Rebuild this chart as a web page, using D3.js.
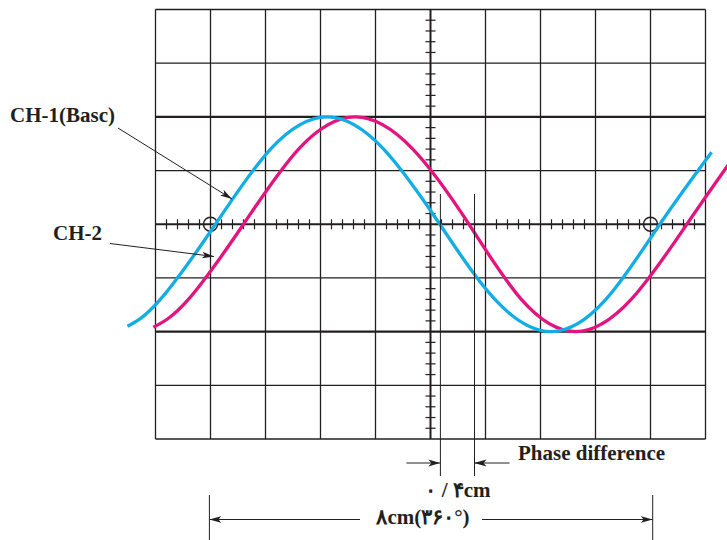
<!DOCTYPE html>
<html>
<head>
<meta charset="utf-8">
<script src="https://cdn.jsdelivr.net/npm/d3@7"></script>
<style>
    body { margin: 0; background: #fff; }
    svg { display: block; }
    text { font-family: "Liberation Serif", "DejaVu Serif", serif; font-weight: bold; fill: #231f20; }
</style>
</head>
<body>
<div id="chart"></div>
<script>
"use strict";

// grid units: x in divisions from left edge (0..10), y in divisions from centre (-4..4)
var gridCols = 10;
var gridRows = 8;
var thickRows = [-2, 0, 2];

// CH-1 (reference, cyan)
var ch1X = [-0.51, 0.08, 1.09, 2.10, 3.12, 4.14, 5.17, 6.18, 7.19, 8.18, 9.17, 10.11];
var ch1Y = [-1.90, -1.41, 0, 1.41, 2.00, 1.41, 0, -1.41, -2.00, -1.41, 0, 1.34];

// CH-2 (lagging, magenta)
var ch2X = [-0.04, 0.59, 1.60, 2.61, 3.63, 4.67, 5.70, 6.66, 7.63, 8.64, 9.66, 10.45];
var ch2Y = [-1.92, -1.41, 0, 1.41, 2.00, 1.41, 0, -1.41, -2.00, -1.41, 0, 1.16];

// trigger circles and measuring marks
var circleX = [1, 9];
var phaseMarkX = [5.18, 5.80];
var periodMarkX = [0.98, 9.04];

var labelCh1 = "CH-1(Basc)";
var labelCh2 = "CH-2";
var labelPhase = "Phase difference";
var labelPhaseValue = "\u06F0 / \u06F4cm";
var labelPeriod = "\u06F8cm(\u06F3\u06F6\u06F0\u00B0)";

var width = 727;
var height = 540;
var ink = "#231f20";
var fontSize = 21;

var x = d3.scaleLinear().domain([0, gridCols]).range([155.5, 705.5]);
var y = d3.scaleLinear().domain([-gridRows / 2, gridRows / 2]).range([439, 9.5]);

var svg = d3.select("#chart")
    .append("svg")
    .attr("width", width)
    .attr("height", height);

var defs = svg.append("defs");
defs.append("marker")
    .attr("id", "arrow")
    .attr("viewBox", "0 0 12 8")
    .attr("refX", 12)
    .attr("refY", 4)
    .attr("markerWidth", 12)
    .attr("markerHeight", 8)
    .attr("markerUnits", "userSpaceOnUse")
    .attr("orient", "auto")
    .append("path")
    .attr("d", "M0,0.6 L12,4 L0,7.4 L3,4 Z")
    .attr("fill", ink);

// grid
var grid = svg.append("g").attr("class", "grid");
grid.selectAll("line.v")
    .data(d3.range(0, gridCols + 1))
    .enter()
    .append("line")
    .attr("class", "v")
    .attr("x1", function(d) { return x(d); })
    .attr("x2", function(d) { return x(d); })
    .attr("y1", y(gridRows / 2))
    .attr("y2", y(-gridRows / 2))
    .attr("stroke", ink)
    .attr("stroke-width", function(d) { return d === gridCols / 2 ? 2 : 1.3; });

grid.selectAll("line.h")
    .data(d3.range(-gridRows / 2, gridRows / 2 + 1))
    .enter()
    .append("line")
    .attr("class", "h")
    .attr("x1", x(0))
    .attr("x2", x(gridCols))
    .attr("y1", function(d) { return y(d); })
    .attr("y2", function(d) { return y(d); })
    .attr("stroke", ink)
    .attr("stroke-width", function(d) { return thickRows.indexOf(d) >= 0 ? 2.2 : 1.3; });

// minor ticks on the centre axes (5 per division)
grid.selectAll("line.tx")
    .data(d3.range(0, gridCols * 5 + 1).filter(function(i) { return i % 5 !== 0; }))
    .enter()
    .append("line")
    .attr("class", "tx")
    .attr("x1", function(i) { return x(i / 5); })
    .attr("x2", function(i) { return x(i / 5); })
    .attr("y1", y(0) - 5)
    .attr("y2", y(0) + 5)
    .attr("stroke", ink)
    .attr("stroke-width", 1.2);

grid.selectAll("line.ty")
    .data(d3.range(-gridRows * 5 / 2, gridRows * 5 / 2 + 1).filter(function(i) { return i % 5 !== 0; }))
    .enter()
    .append("line")
    .attr("class", "ty")
    .attr("x1", x(gridCols / 2) - 5)
    .attr("x2", x(gridCols / 2) + 5)
    .attr("y1", function(i) { return y(i / 5); })
    .attr("y2", function(i) { return y(i / 5); })
    .attr("stroke", ink)
    .attr("stroke-width", 1.2);

// trigger circles
svg.append("g")
    .selectAll("circle")
    .data(circleX)
    .enter()
    .append("circle")
    .attr("cx", function(d) { return x(d); })
    .attr("cy", y(0))
    .attr("r", 7)
    .attr("fill", "none")
    .attr("stroke", ink)
    .attr("stroke-width", 1.5);

// traces
var line = d3.line()
    .x(function(d) { return x(d[0]); })
    .y(function(d) { return y(d[1]); })
    .curve(d3.curveNatural);

svg.append("path")
    .datum(d3.zip(ch2X, ch2Y))
    .attr("d", line)
    .attr("fill", "none")
    .attr("stroke", "#e4147f")
    .attr("stroke-width", 3.3);

svg.append("path")
    .datum(d3.zip(ch1X, ch1Y))
    .attr("d", line)
    .attr("fill", "none")
    .attr("stroke", "#13ade6")
    .attr("stroke-width", 3.3);

// labels with pointers
var notes = svg.append("g").attr("class", "notes");
notes.append("text")
    .attr("x", 10)
    .attr("y", 122)
    .attr("font-size", fontSize)
    .text(labelCh1);
notes.append("line")
    .attr("x1", 118).attr("y1", 128)
    .attr("x2", 232).attr("y2", 199)
    .attr("stroke", ink).attr("stroke-width", 1)
    .attr("marker-end", "url(#arrow)");

notes.append("text")
    .attr("x", 53)
    .attr("y", 240)
    .attr("font-size", fontSize)
    .text(labelCh2);
notes.append("line")
    .attr("x1", 110).attr("y1", 243.5)
    .attr("x2", 214).attr("y2", 256.5)
    .attr("stroke", ink).attr("stroke-width", 1)
    .attr("marker-end", "url(#arrow)");

// phase difference marks
notes.selectAll("line.phase")
    .data(phaseMarkX)
    .enter()
    .append("line")
    .attr("class", "phase")
    .attr("x1", function(d) { return x(d); })
    .attr("x2", function(d) { return x(d); })
    .attr("y1", 194)
    .attr("y2", 476)
    .attr("stroke", ink)
    .attr("stroke-width", 1);

notes.append("line")
    .attr("x1", x(phaseMarkX[0]) - 34).attr("y1", 463)
    .attr("x2", x(phaseMarkX[0])).attr("y2", 463)
    .attr("stroke", ink).attr("stroke-width", 1)
    .attr("marker-end", "url(#arrow)");
notes.append("line")
    .attr("x1", x(phaseMarkX[1]) + 35).attr("y1", 463)
    .attr("x2", x(phaseMarkX[1])).attr("y2", 463)
    .attr("stroke", ink).attr("stroke-width", 1)
    .attr("marker-end", "url(#arrow)");

notes.append("text")
    .attr("x", 518)
    .attr("y", 460)
    .attr("font-size", fontSize)
    .text(labelPhase);

notes.append("text")
    .attr("x", 458)
    .attr("y", 497)
    .attr("font-size", fontSize)
    .attr("text-anchor", "middle")
    .attr("direction", "ltr")
    .text(labelPhaseValue);

// one period
notes.selectAll("line.period")
    .data(periodMarkX)
    .enter()
    .append("line")
    .attr("class", "period")
    .attr("x1", function(d) { return x(d); })
    .attr("x2", function(d) { return x(d); })
    .attr("y1", 495)
    .attr("y2", 540)
    .attr("stroke", ink)
    .attr("stroke-width", 1);

notes.append("line")
    .attr("x1", 360).attr("y1", 519.5)
    .attr("x2", x(periodMarkX[0])).attr("y2", 519.5)
    .attr("stroke", ink).attr("stroke-width", 1)
    .attr("marker-end", "url(#arrow)");
notes.append("line")
    .attr("x1", 482).attr("y1", 519.5)
    .attr("x2", x(periodMarkX[1])).attr("y2", 519.5)
    .attr("stroke", ink).attr("stroke-width", 1)
    .attr("marker-end", "url(#arrow)");

notes.append("text")
    .attr("x", 423)
    .attr("y", 524)
    .attr("font-size", fontSize)
    .attr("text-anchor", "middle")
    .attr("direction", "ltr")
    .text(labelPeriod);
</script>
</body>
</html>
